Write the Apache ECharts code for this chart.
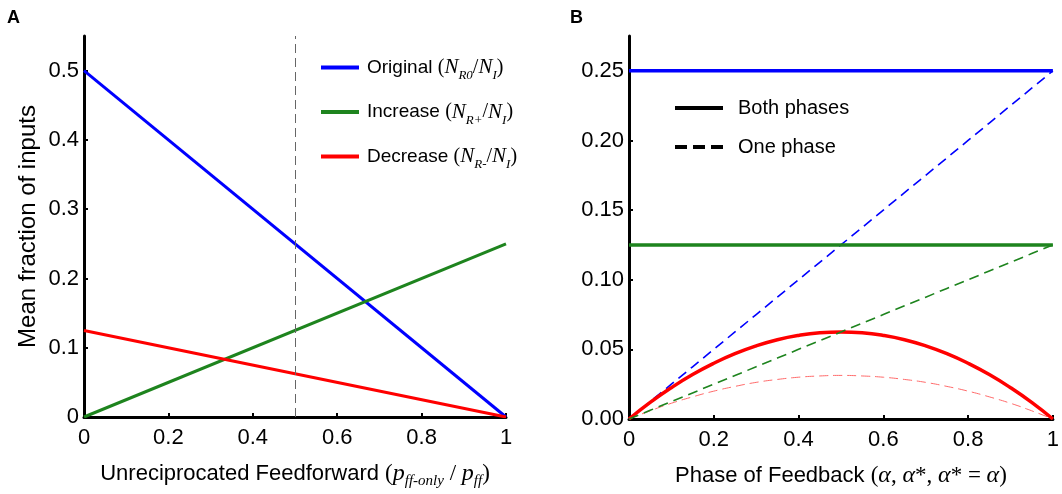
<!DOCTYPE html>
<html>
<head>
<meta charset="utf-8">
<script src="https://cdn.jsdelivr.net/npm/echarts@6/dist/echarts.min.js"></script>
<style>
  html, body { margin: 0; padding: 0; background: #fff; }
  #chart { width: 1062px; height: 494px; }
</style>
</head>
<body>
<div id="chart"></div>
<script>
// ---- Panel A: fraction of inputs vs unreciprocated feedforward ----
const xA = [0, 1];
const originalA = [0.5, 0];
const increaseA = [0, 0.25];
const decreaseA = [0.125, 0];
const halfMark = 0.5;
const yTicksA = [0, 0.1, 0.2, 0.3, 0.4, 0.5];
const yTickLabelsA = ['0', '0.1', '0.2', '0.3', '0.4', '0.5'];
const xTicks = [0, 0.2, 0.4, 0.6, 0.8, 1];
const xTickLabels = ['0', '0.2', '0.4', '0.6', '0.8', '1'];

// ---- Panel B: fraction of inputs vs phase of feedback ----
const xB = [0, 0.05, 0.1, 0.15, 0.2, 0.25, 0.3, 0.35, 0.4, 0.45, 0.5,
            0.55, 0.6, 0.65, 0.7, 0.75, 0.8, 0.85, 0.9, 0.95, 1];
const blueBothB = [0.25, 0.25, 0.25, 0.25, 0.25, 0.25, 0.25, 0.25, 0.25, 0.25, 0.25,
                   0.25, 0.25, 0.25, 0.25, 0.25, 0.25, 0.25, 0.25, 0.25, 0.25];
const blueOneB = [0, 0.0125, 0.025, 0.0375, 0.05, 0.0625, 0.075, 0.0875, 0.1, 0.1125, 0.125,
                  0.1375, 0.15, 0.1625, 0.175, 0.1875, 0.2, 0.2125, 0.225, 0.2375, 0.25];
const greenBothB = [0.125, 0.125, 0.125, 0.125, 0.125, 0.125, 0.125, 0.125, 0.125, 0.125, 0.125,
                    0.125, 0.125, 0.125, 0.125, 0.125, 0.125, 0.125, 0.125, 0.125, 0.125];
const greenOneB = [0, 0.00625, 0.0125, 0.01875, 0.025, 0.03125, 0.0375, 0.04375, 0.05, 0.05625, 0.0625,
                   0.06875, 0.075, 0.08125, 0.0875, 0.09375, 0.1, 0.10625, 0.1125, 0.11875, 0.125];
const redBothB = [0, 0.0119, 0.0225, 0.0319, 0.04, 0.0469, 0.0525, 0.0569, 0.06, 0.0619, 0.0625,
                  0.0619, 0.06, 0.0569, 0.0525, 0.0469, 0.04, 0.0319, 0.0225, 0.0119, 0];
const redOneB = [0, 0.0059, 0.0113, 0.0159, 0.02, 0.0234, 0.0263, 0.0284, 0.03, 0.0309, 0.0313,
                 0.0309, 0.03, 0.0284, 0.0263, 0.0234, 0.02, 0.0159, 0.0113, 0.0059, 0];
const yTicksB = [0, 0.05, 0.1, 0.15, 0.2, 0.25];
const yTickLabelsB = ['0.00', '0.05', '0.10', '0.15', '0.20', '0.25'];

const BLUE = '#0000ff', GREEN = '#1e841e', RED = '#ff0000';
const SANS = 'Liberation Sans', SERIF = 'Liberation Serif';

function pairs(xs, ys) { return xs.map((x, i) => [x, ys[i]]); }
function labelFor(ticks, labels) {
  return v => {
    const i = ticks.findIndex(t => Math.abs(t - v) < 1e-9);
    return i < 0 ? '' : labels[i];
  };
}

// rich-text styles for the math pieces
function richSet(size) {
  return {
    t: { fontFamily: SANS, fontSize: size, color: '#000', lineHeight: 30 },
    p: { fontFamily: SERIF, fontSize: size + 1, color: '#000', lineHeight: 30 },
    m: { fontFamily: SERIF, fontStyle: 'italic', fontSize: size + 2, color: '#000', lineHeight: 30 },
    s: { fontFamily: SERIF, fontStyle: 'italic', fontSize: Math.round(size * 0.68), color: '#000',
         lineHeight: 13, verticalAlign: 'bottom' }
  };
}

const legendTextA = {
  'Original': '{t|Original }{p|(}{m|N}{s|R0}{p|/}{m|N}{s|I}{p|)}',
  'Increase': '{t|Increase }{p|(}{m|N}{s|R+}{p|/}{m|N}{s|I}{p|)}',
  'Decrease': '{t|Decrease }{p|(}{m|N}{s|R-}{p|/}{m|N}{s|I}{p|)}'
};

function baseX(gridIndex, name) {
  return {
    type: 'value', gridIndex, min: 0, max: 1, interval: 0.2,
    name, nameLocation: 'middle', nameGap: 42,
    nameTextStyle: { fontFamily: SANS, fontSize: 22, color: '#000', rich: richSet(22) },
    axisLine: { lineStyle: { color: '#000', width: 3 } },
    axisTick: { inside: true, length: 4, lineStyle: { color: '#000', width: 2 }, customValues: xTicks },
    axisLabel: { fontFamily: SANS, fontSize: 22, color: '#000', margin: 10,
                 customValues: xTicks, formatter: labelFor(xTicks, xTickLabels) },
    splitLine: { show: false }
  };
}
function baseY(gridIndex, max, ticks, labels, name) {
  return {
    type: 'value', gridIndex, min: 0, max,
    name, nameLocation: 'middle', nameGap: 44,
    nameTextStyle: { fontFamily: SANS, fontSize: 24, color: '#000' },
    axisLine: { show: true, lineStyle: { color: '#000', width: 3 } },
    axisTick: { show: true, inside: true, length: 4, lineStyle: { color: '#000', width: 2 }, customValues: ticks },
    axisLabel: { fontFamily: SANS, fontSize: 22, color: '#000', margin: 5,
                 customValues: ticks, formatter: labelFor(ticks, labels) },
    splitLine: { show: false }
  };
}

function line(name, xi, xs, ys, color, width, type, extra) {
  return Object.assign({
    name, type: 'line', xAxisIndex: xi, yAxisIndex: xi,
    data: pairs(xs, ys), symbol: 'none', silent: true,
    lineStyle: { color, width, type }, itemStyle: { color }
  }, extra || {});
}

const option = {
  animation: false,
  backgroundColor: '#fff',
  title: [
    { text: 'A', left: 2, top: 4, textStyle: { fontFamily: SANS, fontWeight: 'bold', fontSize: 18, color: '#000' } },
    { text: 'B', left: 565, top: 4, textStyle: { fontFamily: SANS, fontWeight: 'bold', fontSize: 18, color: '#000' } }
  ],
  grid: [
    { left: 84, top: 36, width: 422, height: 383 },
    { left: 629, top: 36, width: 431, height: 383 }
  ],
  xAxis: [
    baseX(0, '{t|Unreciprocated Feedforward }{p|(}{m|p}{s|ff-only}{p| / }{m|p}{s|ff}{p|)}'),
    baseX(1, '{t|Phase of Feedback }{p|(}{m|α}{p|, }{m|α}{p|*, }{m|α}{p|* = }{m|α}{p|)}')
  ],
  yAxis: [
    baseY(0, 0.55, yTicksA, yTickLabelsA, 'Mean fraction of inputs'),
    baseY(1, 0.275, yTicksB, yTickLabelsB, '')
  ],
  legend: [
    {
      orient: 'vertical', left: 316, top: 52, itemWidth: 38, itemHeight: 4, itemGap: 19,
      data: ['Original', 'Increase', 'Decrease'].map(n => ({ name: n, icon: 'rect' })),
      selectedMode: false,
      formatter: n => legendTextA[n],
      textStyle: { rich: richSet(19), padding: [0, 0, 0, 3] }
    },
    {
      orient: 'vertical', left: 670, top: 90, itemWidth: 48, itemHeight: 4, itemGap: 13,
      selectedMode: false,
      data: [
        { name: 'Both phases', icon: 'path://M0,0h48v4h-48z' },
        { name: 'One phase', icon: 'path://M0,0h12v4h-12zM18,0h12v4h-12zM36,0h12v4h-12z' }
      ],
      textStyle: { fontFamily: SANS, fontSize: 20, color: '#000', lineHeight: 26, padding: [0, 0, 0, 10] }
    }
  ],
  series: [
    // Panel A
    {
      name: 'cutoff', type: 'line', xAxisIndex: 0, yAxisIndex: 0, data: [], silent: true,
      markLine: {
        silent: true, symbol: 'none', label: { show: false },
        lineStyle: { color: '#666', width: 1, type: [9, 5] },
        data: [{ xAxis: halfMark }]
      }
    },
    line('Original', 0, xA, originalA, BLUE, 3),
    line('Increase', 0, xA, increaseA, GREEN, 3),
    line('Decrease', 0, xA, decreaseA, RED, 3),
    // Panel B: one-phase (dashed) under both-phase (solid)
    line('Blue one', 1, xB, blueOneB, BLUE, 1.6, [10, 6]),
    line('Red one', 1, xB, redOneB, '#ff6a6a', 1, [9, 5], { smooth: true }),
    line('Blue both', 1, xB, blueBothB, BLUE, 3.5),
    line('Green both', 1, xB, greenBothB, GREEN, 3.5),
    line('Red both', 1, xB, redBothB, RED, 3.5, 'solid', { smooth: true }),
    line('Green one', 1, xB, greenOneB, GREEN, 1.6, [10, 6]),
    // legend keys for panel B
    { name: 'Both phases', type: 'line', xAxisIndex: 1, yAxisIndex: 1, data: [], symbol: 'none',
      itemStyle: { color: '#000' }, lineStyle: { color: '#000', width: 4 } },
    { name: 'One phase', type: 'line', xAxisIndex: 1, yAxisIndex: 1, data: [], symbol: 'none',
      itemStyle: { color: '#000' }, lineStyle: { color: '#000', width: 4, type: [12, 6] } }
  ]
};

const chart = echarts.init(document.getElementById('chart'), null, { renderer: 'canvas' });
chart.setOption(option);
</script>
</body>
</html>
